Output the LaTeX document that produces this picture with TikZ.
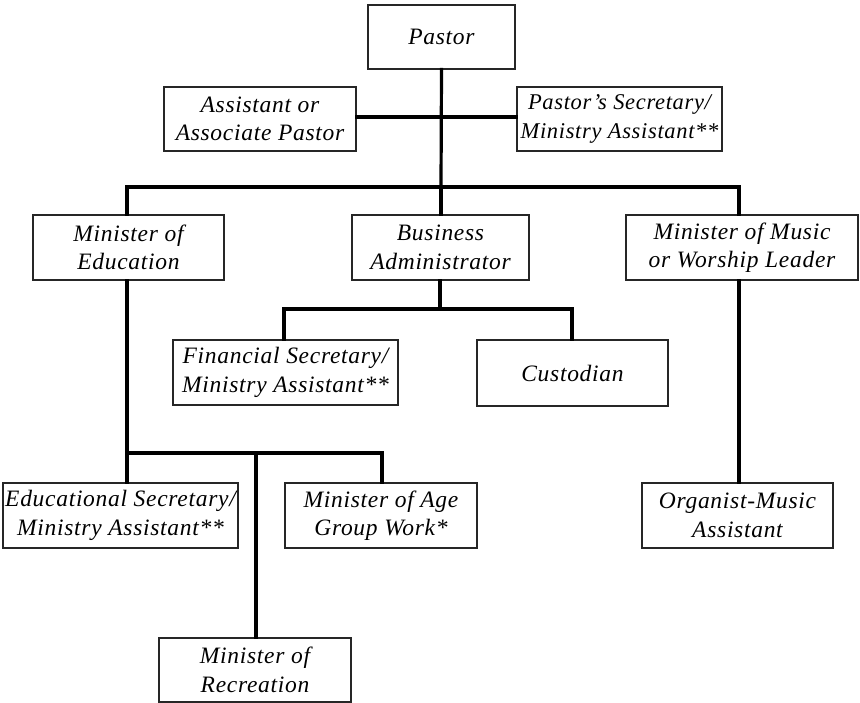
\documentclass[tikz,border=0pt]{standalone}
\usepackage{fontspec}
\setmainfont[LetterSpace=3]{Liberation Serif}
\begin{document}
\begin{tikzpicture}[x=1pt,y=-1pt,
  box/.style={draw=black!85,line width=1.1pt,rectangle,align=center,inner sep=0pt,
    font=\fontsize{23.5}{28.5}\selectfont\itshape},
  tight/.style={font=\fontsize{22.5}{28.5}\selectfont\itshape},
  conn/.style={line width=3.2pt,line cap=rect}]
\useasboundingbox (0,0) rectangle (860,703);
\node[box,minimum width=147,minimum height=64] (pastor) at (441.5,37) {Pastor};
\node[box,minimum width=192,minimum height=64] (assist) at (260,119) {Assistant or\\Associate Pastor};
\node[box,tight,minimum width=205,minimum height=64] (psec) at (619.5,119) {Pastor’s Secretary/\\Ministry Assistant**};
\node[box,minimum width=191,minimum height=65] (edu) at (128.5,247.5) {Minister of\\Education};
\node[box,minimum width=177,minimum height=65] (ba) at (440.5,247.5) {Business\\Administrator};
\node[box,minimum width=232,minimum height=65] (music) at (742,247.5) {Minister of Music\\or Worship Leader};
\node[box,minimum width=225,minimum height=65] (finsec) at (285.5,372.5) {Financial Secretary/\\Ministry Assistant**};
\node[box,minimum width=191,minimum height=66] (cust) at (572.5,373) {Custodian};
\node[box,minimum width=235,minimum height=65] (edusec) at (120.5,515.5) {Educational Secretary/\\Ministry Assistant**};
\node[box,minimum width=192,minimum height=65] (age) at (381,515.5) {Minister of Age\\Group Work*};
\node[box,minimum width=192,minimum height=64] (rec) at (255,670) {Minister of\\Recreation};
\node[box,minimum width=191,minimum height=65] (org) at (737.5,515.5) {Organist-Music\\Assistant};

\coordinate (top) at (441,187);
\coordinate (eduL) at (127,187);
\coordinate (musR) at (739,187);
\coordinate (baJ) at (440,309);
\coordinate (finJ) at (284,309);
\coordinate (custJ) at (572,309);
\coordinate (eduJ) at (127,453);
\coordinate (recJ) at (256,453);
\coordinate (ageJ) at (382,453);
\coordinate (sideJ) at (441,117);

\draw[conn] (pastor.south) -- (top);
\draw[conn] (assist.east |- sideJ) -- (psec.west |- sideJ);
\draw[conn] (edu.north -| eduL) -- (eduL) -- (musR) -- (music.north -| musR);
\draw[conn] (top) -- (ba.north -| top);
\draw[conn] (ba.south -| baJ) -- (baJ);
\draw[conn] (finsec.north -| finJ) -- (finJ) -- (custJ) -- (cust.north -| custJ);
\draw[conn] (edu.south -| eduJ) -- (eduJ) -- (ageJ) -- (age.north -| ageJ);
\draw[conn] (eduJ) -- (edusec.north -| eduJ);
\draw[conn] (recJ) -- (rec.north -| recJ);
\draw[conn] (music.south -| musR) -- (org.north -| musR);
\end{tikzpicture}
\end{document}
